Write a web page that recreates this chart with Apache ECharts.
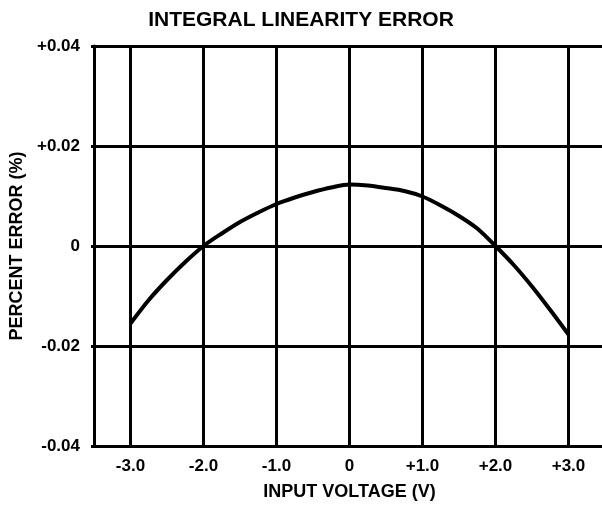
<!DOCTYPE html>
<html><head><meta charset="utf-8">
<script src="https://cdn.jsdelivr.net/npm/echarts@6/dist/echarts.min.js"></script>
<style>html,body{margin:0;padding:0;background:#fff}#c{width:602px;height:505px}</style>
</head><body><div id="c"></div>
<script>
const xValues = [-3,-2.75,-2.5,-2.25,-2,-1.75,-1.5,-1.25,-1,-0.75,-0.5,-0.25,0,0.25,0.5,0.75,1,1.25,1.5,1.75,2,2.25,2.5,2.75,3];
const errorValues = [-0.0155,-0.0108,-0.0068,-0.0032,0,0.0025,0.0048,0.0067,0.0084,0.0097,0.0108,0.0117,0.0123,0.0121,0.0116,0.0110,0.0099,0.0081,0.0060,0.0035,0,-0.0038,-0.0081,-0.0128,-0.0177];
const xTicks = [-3,-2,-1,0,1,2,3];
const xTickLabels = ['-3.0','-2.0','-1.0','0','+1.0','+2.0','+3.0'];
const yTicks = [-0.04,-0.02,0,0.02,0.04];
const yTickLabels = ['-0.04','-0.02','0','+0.02','+0.04'];

const font = 'Liberation Sans, Arial, sans-serif';
const chart = echarts.init(document.getElementById('c'));
chart.setOption({
  animation:false,
  backgroundColor:'#fff',
  title:{text:'INTEGRAL LINEARITY ERROR',left:'center',top:5,
    textStyle:{fontFamily:font,fontWeight:'bold',fontSize:21,color:'#000'}},
  grid:{left:94,right:-3,top:46,bottom:59,containLabel:false,outerBoundsMode:'none'},
  xAxis:{type:'value',min:-3.5,max:3.5,
    name:'INPUT VOLTAGE (V)',nameLocation:'middle',nameGap:37,
    nameTextStyle:{fontFamily:font,fontWeight:'bold',fontSize:18,color:'#000'},
    axisLine:{show:true,onZero:false,lineStyle:{color:'#000',width:3}},
    axisTick:{show:false},
    splitLine:{show:false},
    axisLabel:{customValues:xTicks,margin:12,fontFamily:font,fontWeight:'bold',fontSize:17,color:'#000',
      formatter:v=>{const i=xTicks.findIndex(t=>Math.abs(t-v)<1e-9);return i>=0?xTickLabels[i]:'';}}
  },
  yAxis:{type:'value',min:-0.04,max:0.04,interval:0.02,
    name:'PERCENT ERROR (%)',nameLocation:'middle',nameGap:65,nameRotate:90,
    nameTextStyle:{fontFamily:font,fontWeight:'bold',fontSize:18,color:'#000'},
    axisLine:{show:true,onZero:false,lineStyle:{color:'#000',width:3}},
    axisTick:{show:true,length:3,inside:false,lineStyle:{color:'#000',width:3}},
    splitLine:{show:true,lineStyle:{color:'#000',width:3}},
    axisLabel:{margin:14,fontFamily:font,fontWeight:'bold',fontSize:17,color:'#000',
      formatter:v=>{const i=yTicks.findIndex(t=>Math.abs(t-v)<1e-9);return i>=0?yTickLabels[i]:'';}}
  },
  series:[
    {type:'line',data:[],silent:true,
     markLine:{silent:true,symbol:'none',label:{show:false},
       lineStyle:{color:'#000',width:3,type:'solid'},
       data:xTicks.map(t=>({xAxis:t}))}},
    {type:'line',data:xValues.map((x,i)=>[x,errorValues[i]]),smooth:0.3,showSymbol:false,
     lineStyle:{color:'#000',width:4}}
  ]
});
</script></body></html>
